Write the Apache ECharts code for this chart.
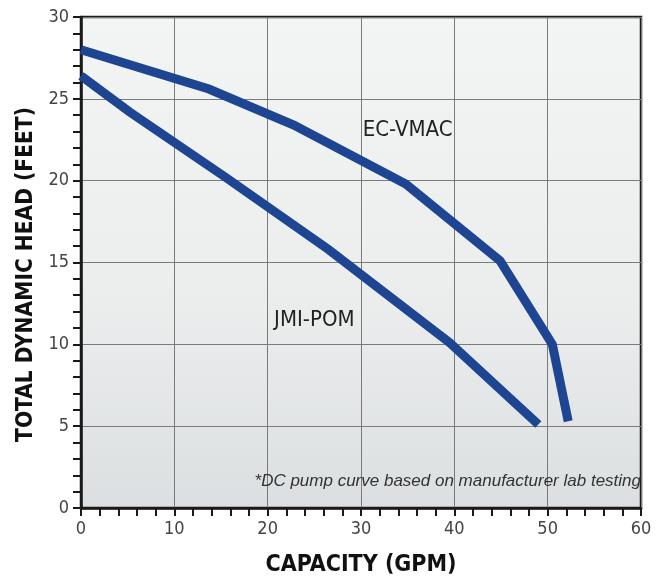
<!DOCTYPE html>
<html>
<head>
<meta charset="utf-8">
<script src="https://cdn.jsdelivr.net/npm/echarts@6/dist/echarts.min.js"></script>
<style>
html,body{margin:0;padding:0;background:#fff;}
#chart{width:660px;height:578px;}
</style>
</head>
<body>
<div id="chart"></div>
<script>
// ---- data ----
const ecVmacCapacity = [0, 13.7, 22.8, 34.8, 44.9, 50.5, 52.2];
const ecVmacHead     = [28.0, 25.6, 23.4, 19.8, 15.1, 10.0, 5.3];
const jmiPomCapacity = [0, 5.2, 15.5, 26.5, 39.5, 49.0];
const jmiPomHead     = [26.4, 24.2, 20.2, 15.8, 10.1, 5.1];
const seriesNames = ['EC-VMAC', 'JMI-POM'];
const xAxisTitle = 'CAPACITY (GPM)';
const yAxisTitle = 'TOTAL DYNAMIC HEAD (FEET)';
const footnote = '*DC pump curve based on manufacturer lab testing';

function pairs(xs, ys) { return xs.map((x, i) => [x, ys[i]]); }

const chart = echarts.init(document.getElementById('chart'));
const lineColor = '#1d4591';
const narrow = '"Liberation Sans Narrow", "DejaVu Sans Condensed", sans-serif';

function curve(name, data, labelCoord) {
  return {
    name: name,
    type: 'line',
    data: data,
    showSymbol: false,
    symbol: 'none',
    lineStyle: { color: lineColor, width: 9, cap: 'butt', join: 'miter' },
    silent: true,
    markPoint: {
      symbol: 'circle',
      symbolSize: 0,
      silent: true,
      data: [{ coord: labelCoord, value: name }],
      label: {
        show: true,
        position: 'inside',
        formatter: name,
        color: '#222',
        fontFamily: narrow,
        fontSize: 22
      }
    }
  };
}

chart.setOption({
  animation: false,
  backgroundColor: '#ffffff',
  grid: {
    left: 81, right: 19, top: 17, bottom: 70,
    outerBoundsMode: 'none',
    containLabel: false,
    show: true,
    borderColor: '#1a1a1a',
    borderWidth: 2.5,
    backgroundColor: {
      type: 'linear', x: 0, y: 0, x2: 0, y2: 1,
      colorStops: [
        { offset: 0, color: '#f3f4f4' },
        { offset: 0.55, color: '#eceeee' },
        { offset: 1, color: '#dcdfe1' }
      ]
    }
  },
  xAxis: {
    type: 'value',
    min: 0, max: 60, interval: 10,
    name: xAxisTitle,
    nameLocation: 'middle',
    nameGap: 46,
    nameTextStyle: { fontFamily: narrow, fontWeight: 'bold', fontSize: 23, color: '#111' },
    axisLine: { show: true, lineStyle: { color: '#1a1a1a', width: 2.5 } },
    axisTick: { show: true, inside: false, length: 8, lineStyle: { color: '#1a1a1a', width: 2 } },
    minorTick: { show: true, splitNumber: 5, length: 8, lineStyle: { color: '#1a1a1a', width: 2 } },
    axisLabel: { margin: 12, fontFamily: narrow, fontSize: 18, color: '#444' },
    splitLine: { show: true, lineStyle: { color: '#7a7a7a', width: 1 } },
    minorSplitLine: { show: false }
  },
  yAxis: {
    type: 'value',
    min: 0, max: 30, interval: 5,
    name: yAxisTitle,
    nameLocation: 'middle',
    nameGap: 43,
    nameTextStyle: { fontFamily: narrow, fontWeight: 'bold', fontSize: 22.5, color: '#111', padding: [0, 24, 0, 0] },
    axisLine: { show: true, lineStyle: { color: '#1a1a1a', width: 2.5 } },
    axisTick: { show: true, inside: false, length: 8, lineStyle: { color: '#1a1a1a', width: 2 } },
    minorTick: { show: true, splitNumber: 5, length: 8, lineStyle: { color: '#1a1a1a', width: 2 } },
    axisLabel: { margin: 12, fontFamily: narrow, fontSize: 18, color: '#444' },
    splitLine: { show: true, lineStyle: { color: '#7a7a7a', width: 1 } },
    minorSplitLine: { show: false }
  },
  graphic: [{
    type: 'text',
    right: 19,
    top: 473,
    z: 100,
    style: {
      text: footnote,
      fontFamily: '"Liberation Sans", Arial, sans-serif',
      fontStyle: 'italic',
      fontSize: 17,
      fill: '#333'
    }
  }],
  series: [
    curve(seriesNames[0], pairs(ecVmacCapacity, ecVmacHead), [35.0, 23.1]),
    curve(seriesNames[1], pairs(jmiPomCapacity, jmiPomHead), [25.0, 11.5])
  ]
});
</script>
</body>
</html>
